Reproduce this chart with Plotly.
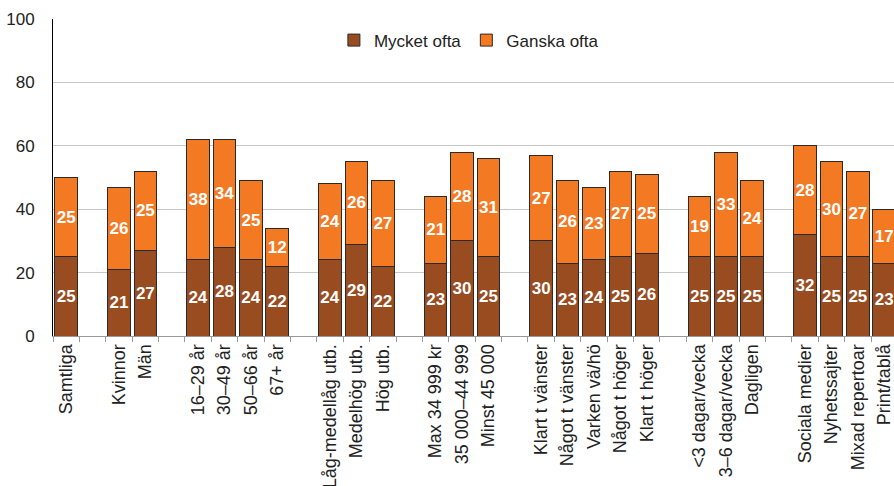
import plotly.graph_objects as go

# Category groups (gaps between groups in the chart)
groups = [
    ["Samtliga"],
    ["Kvinnor", "Män"],
    ["16–29 år", "30–49 år", "50–66 år", "67+ år"],
    ["Låg-medellåg utb.", "Medelhög utb.", "Hög utb."],
    ["Max 34 999 kr", "35 000–44 999", "Minst 45 000"],
    ["Klart t vänster", "Något t vänster", "Varken vä/hö", "Något t höger", "Klart t höger"],
    ["<3 dagar/vecka", "3–6 dagar/vecka", "Dagligen"],
    ["Sociala medier", "Nyhetssajter", "Mixad repertoar", "Print/tablå"],
]

mycket_ofta = [
    [25],
    [21, 27],
    [24, 28, 24, 22],
    [24, 29, 22],
    [23, 30, 25],
    [30, 23, 24, 25, 26],
    [25, 25, 25],
    [32, 25, 25, 23],
]

ganska_ofta = [
    [25],
    [26, 25],
    [38, 34, 25, 12],
    [24, 26, 27],
    [21, 28, 31],
    [27, 26, 23, 27, 25],
    [19, 33, 24],
    [28, 30, 27, 17],
]

y_ticks = [0, 20, 40, 60, 80, 100]

# Build slot lists with blank gap categories between groups
cats, m_vals, g_vals = [], [], []
for i, (labs, mv, gv) in enumerate(zip(groups, mycket_ofta, ganska_ofta)):
    if i > 0:
        cats.append(" " * i)
        m_vals.append(None)
        g_vals.append(None)
    cats.extend(labs)
    m_vals.extend(mv)
    g_vals.extend(gv)

DARK = "#9A4C21"
ORANGE = "#F37A23"
FONT = "Liberation Sans"

common = dict(
    textposition="inside",
    insidetextanchor="middle",
    textangle=0,
    constraintext="none",
    textfont=dict(family=FONT, size=17, color="white", weight="bold"),
)

fig = go.Figure()
fig.add_trace(go.Bar(
    name="Mycket ofta", x=cats, y=m_vals,
    text=[("" if v is None else str(v)) for v in m_vals],
    marker=dict(color=DARK, line=dict(color="#2a2a2a", width=1)),
    **common,
))
fig.add_trace(go.Bar(
    name="Ganska ofta", x=cats, y=g_vals,
    text=[("" if v is None else str(v)) for v in g_vals],
    marker=dict(color=ORANGE, line=dict(color="#2a2a2a", width=1)),
    **common,
))

fig.update_layout(
    barmode="stack",
    bargap=0.14,
    width=894, height=486,
    margin=dict(l=53, r=0, t=19, b=150, autoexpand=False),
    paper_bgcolor="white",
    plot_bgcolor="white",
    font=dict(family=FONT, color="#222222"),
    showlegend=True,
    legend=dict(
        orientation="h",
        x=0.334, xanchor="left",
        y=0.932, yanchor="middle",
        font=dict(family=FONT, size=17, color="#222222"),
        bgcolor="rgba(0,0,0,0)",
        traceorder="normal",
        itemwidth=30,
    ),
    xaxis=dict(
        type="category",
        categoryorder="array",
        categoryarray=cats,
        range=[-0.5, 31.37],
        tickson="boundaries",
        ticks="outside",
        ticklen=5,
        tickcolor="#999999",
        tickangle=-90,
        tickfont=dict(family=FONT, size=18, color="#222222"),
        showline=True,
        linecolor="#999999",
        linewidth=1,
        showgrid=False,
        automargin=False,
    ),
    yaxis=dict(
        range=[0, 100],
        tickvals=y_ticks,
        ticks="",
        tickfont=dict(family=FONT, size=17, color="#222222"),
        showline=True,
        linecolor="#000000",
        linewidth=1,
        showgrid=True,
        gridcolor="#c8c8c8",
        gridwidth=1,
        zeroline=False,
        automargin=False,
        ticklabelstandoff=14,
    ),
)

fig.write_html(
    "out.html",
    config={"displayModeBar": False},
    post_script="document.body.style.margin='0';document.body.style.overflow='hidden';",
)
